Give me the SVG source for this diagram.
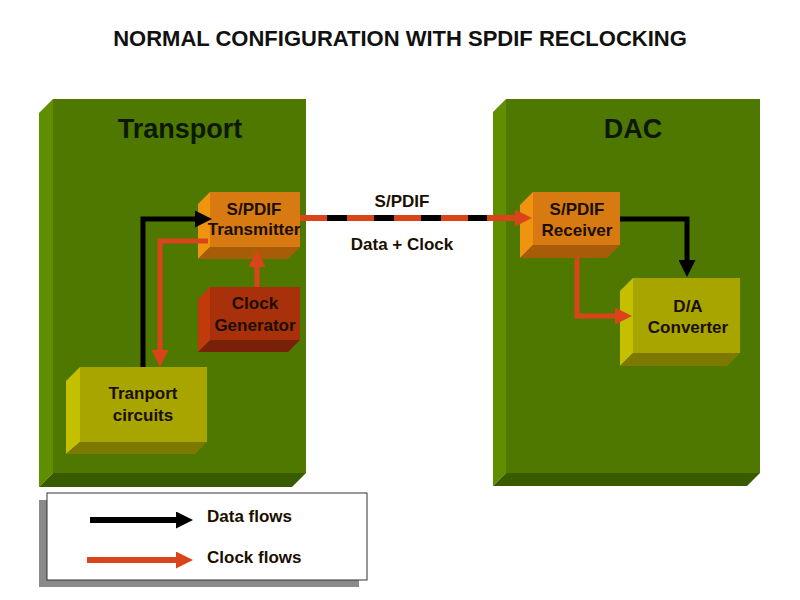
<svg xmlns="http://www.w3.org/2000/svg" width="800" height="600" viewBox="0 0 800 600">
<style>
text{font-family:"Liberation Sans",Arial,sans-serif;font-weight:bold;text-anchor:middle;fill:#111}
.big{font-size:27px;fill:#0c1800}
.lbl{font-size:17px;fill:#1a0f00}
.gf{fill:#4f7800}.gl{fill:#5f8f00}.gb{fill:#3a5a00}
.of{fill:#d87a12}.ol{fill:#f0930f}.ob{fill:#a85c08}
.rf{fill:#a8300a}.rl{fill:#c03a0c}.rb{fill:#782008}
.yf{fill:#a8a400}.yl{fill:#c4c000}.yb{fill:#7c7800}
.data{stroke:#000;stroke-width:5;fill:none}
.clk{stroke:#d9441a;stroke-width:5;fill:none}
</style>
<defs>
<marker id="ab" viewBox="0 0 10 10" refX="0" refY="5" markerWidth="17" markerHeight="17" markerUnits="userSpaceOnUse" orient="auto"><path d="M0,0L10,5L0,10z" fill="#000"/></marker>
<marker id="ao" viewBox="0 0 10 10" refX="0" refY="5" markerWidth="17" markerHeight="17" markerUnits="userSpaceOnUse" orient="auto"><path d="M0,0L10,5L0,10z" fill="#d9441a"/></marker>
</defs>
<rect width="800" height="600" fill="#fff"/>
<text x="400" y="46" style="font-size:22px">NORMAL CONFIGURATION WITH SPDIF RECLOCKING</text>

<g id="transport">
<rect class="gf" x="53" y="99" width="253" height="374"/>
<path class="gl" d="M39,113L53,99L53,473L39,487z"/>
<path class="gb" d="M39,487L53,473L306,473L292,487z"/>
<text class="big" x="180" y="138">Transport</text>
</g>
<g id="dac">
<rect class="gf" x="506" y="99" width="254" height="374"/>
<path class="gl" d="M493,112L506,99L506,473L493,486z"/>
<path class="gb" d="M493,486L506,473L760,473L747,486z"/>
<text class="big" x="633" y="138">DAC</text>
</g>

<g id="transmitter">
<rect class="of" x="210" y="192" width="90" height="55"/>
<path class="ol" d="M198,204L210,192L210,247L198,259z"/>
<path class="ob" d="M198,259L210,247L300,247L288,259z"/>
<text class="lbl" x="254" y="215">S/PDIF</text>
<text class="lbl" x="254" y="235">Transmitter</text>
</g>
<g id="clockgen">
<rect class="rf" x="210" y="287" width="90" height="53"/>
<path class="rl" d="M198,299L210,287L210,340L198,352z"/>
<path class="rb" d="M198,352L210,340L300,340L288,352z"/>
<text class="lbl" x="255" y="309">Clock</text>
<text class="lbl" x="255" y="331">Generator</text>
</g>
<g id="circuits">
<rect class="yf" x="80" y="367" width="127" height="75"/>
<path class="yl" d="M66,381L80,367L80,442L66,454z"/>
<path class="yb" d="M66,454L80,442L207,442L195,454z"/>
<text class="lbl" x="143" y="399">Tranport</text>
<text class="lbl" x="143" y="421">circuits</text>
</g>
<g id="receiver">
<rect class="of" x="533" y="192" width="87" height="53"/>
<path class="ol" d="M520,205L533,192L533,245L520,258z"/>
<path class="ob" d="M520,258L533,245L620,245L607,258z"/>
<text class="lbl" x="577" y="215">S/PDIF</text>
<text class="lbl" x="577" y="236">Receiver</text>
</g>
<g id="converter">
<rect class="yf" x="633" y="278" width="107" height="75"/>
<path class="yl" d="M620,291L633,278L633,353L620,366z"/>
<path class="yb" d="M620,366L633,353L740,353L727,366z"/>
<text class="lbl" x="688" y="312">D/A</text>
<text class="lbl" x="688" y="333">Converter</text>
</g>

<g id="connectors">
<path class="data" d="M143,367V219H195" marker-end="url(#ab)"/>
<path class="clk" d="M208,241H160V350" marker-end="url(#ao)"/>
<path class="clk" d="M257,287V267" marker-end="url(#ao)"/>
<path d="M300,218H515" style="stroke:#d9441a;stroke-width:6" marker-end="url(#ao)"/>
<path d="M327,218H487" style="stroke:#000;stroke-width:6;stroke-dasharray:20 27"/>
<path class="data" d="M620,219H687V260" marker-end="url(#ab)"/>
<path class="clk" d="M577,258V316H615" marker-end="url(#ao)"/>
<text class="lbl" x="402" y="207">S/PDIF</text>
<text class="lbl" x="402" y="250">Data + Clock</text>
</g>

<g id="legend">
<rect x="39" y="500" width="320" height="87" fill="#8a8a8a"/>
<rect x="47" y="493" width="320" height="87" fill="#fff" stroke="#333" stroke-width="1"/>
<path d="M90,520H176" style="stroke:#000;stroke-width:6" marker-end="url(#ab)"/>
<path d="M87,560H176" style="stroke:#d9441a;stroke-width:6" marker-end="url(#ao)"/>
<text class="lbl" x="207" y="522" style="text-anchor:start">Data flows</text>
<text class="lbl" x="207" y="563" style="text-anchor:start">Clock flows</text>
</g>
</svg>
